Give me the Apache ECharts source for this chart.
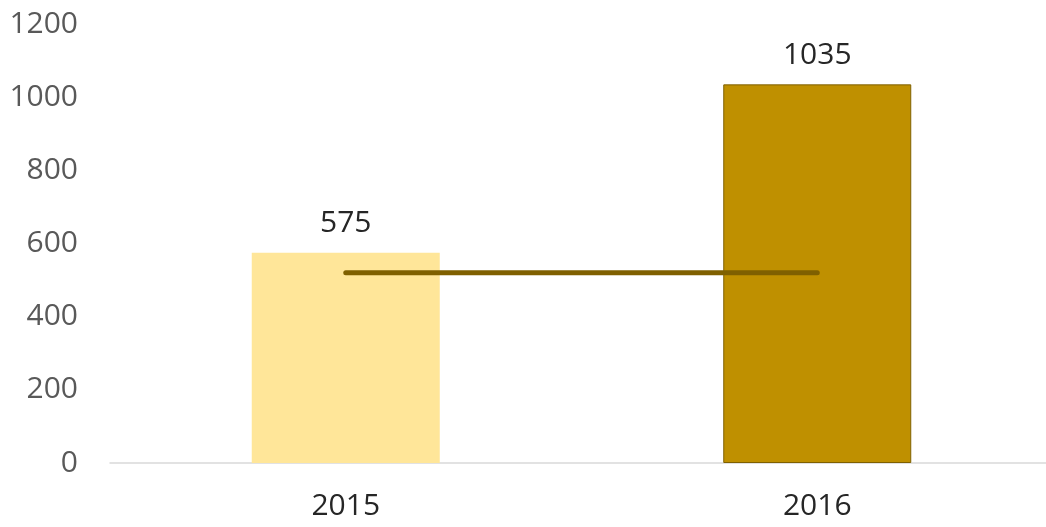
<!DOCTYPE html>
<html>
<head>
<meta charset="utf-8">
<script src="https://cdn.jsdelivr.net/npm/echarts@6/dist/echarts.min.js"></script>
<style>
  html, body { margin: 0; padding: 0; background: #fff; }
  #chart { width: 1046px; height: 527px; }
</style>
</head>
<body>
<div id="chart"></div>
<script>
// data
var years = ['2015', '2016'];
var barValues = [575, 1035];
var barColors = ['#FFE699', '#BF9000'];
var lineValues = [520, 520];
var yTicks = { min: 0, max: 1200, interval: 200 };

var myChart = echarts.init(document.getElementById('chart'));

var barData = [];
for (var i = 0; i < barValues.length; i++) {
  barData.push({
    value: barValues[i],
    itemStyle: {
      color: barColors[i],
      borderColor: i == 1 ? '#7F6000' : barColors[i],
      borderWidth: i == 1 ? 1 : 0
    }
  });
}

var option = {
  animation: false,
  textStyle: { fontFamily: 'Open Sans' },
  grid: {
    left: 110, right: -7, top: 24, bottom: 64,
    containLabel: false,
    outerBoundsMode: 'none'
  },
  xAxis: {
    type: 'category',
    data: years,
    axisLine: { lineStyle: { color: '#D9D9D9', width: 1.5 } },
    axisTick: { show: false },
    axisLabel: {
      color: '#262626',
      fontSize: 30,
      lineHeight: 34,
      margin: 26,
      fontFamily: 'Open Sans'
    }
  },
  yAxis: {
    type: 'value',
    min: yTicks.min,
    max: yTicks.max,
    interval: yTicks.interval,
    axisLine: { show: false },
    axisTick: { show: false },
    splitLine: { show: false },
    axisLabel: {
      color: '#595959',
      fontSize: 30,
      margin: 32,
      fontFamily: 'Open Sans',
      formatter: function (v) { return String(v); }
    }
  },
  series: [
    {
      name: 'value',
      type: 'bar',
      data: barData,
      barWidth: 188,
      label: {
        show: true,
        position: 'top',
        distance: 14,
        color: '#262626',
        fontSize: 30,
        fontFamily: 'Open Sans'
      }
    },
    {
      name: 'avg',
      type: 'line',
      data: lineValues,
      symbol: 'none',
      z: 5,
      lineStyle: { color: '#7F6000', width: 5, cap: 'round' }
    }
  ]
};

myChart.setOption(option);
</script>
</body>
</html>
